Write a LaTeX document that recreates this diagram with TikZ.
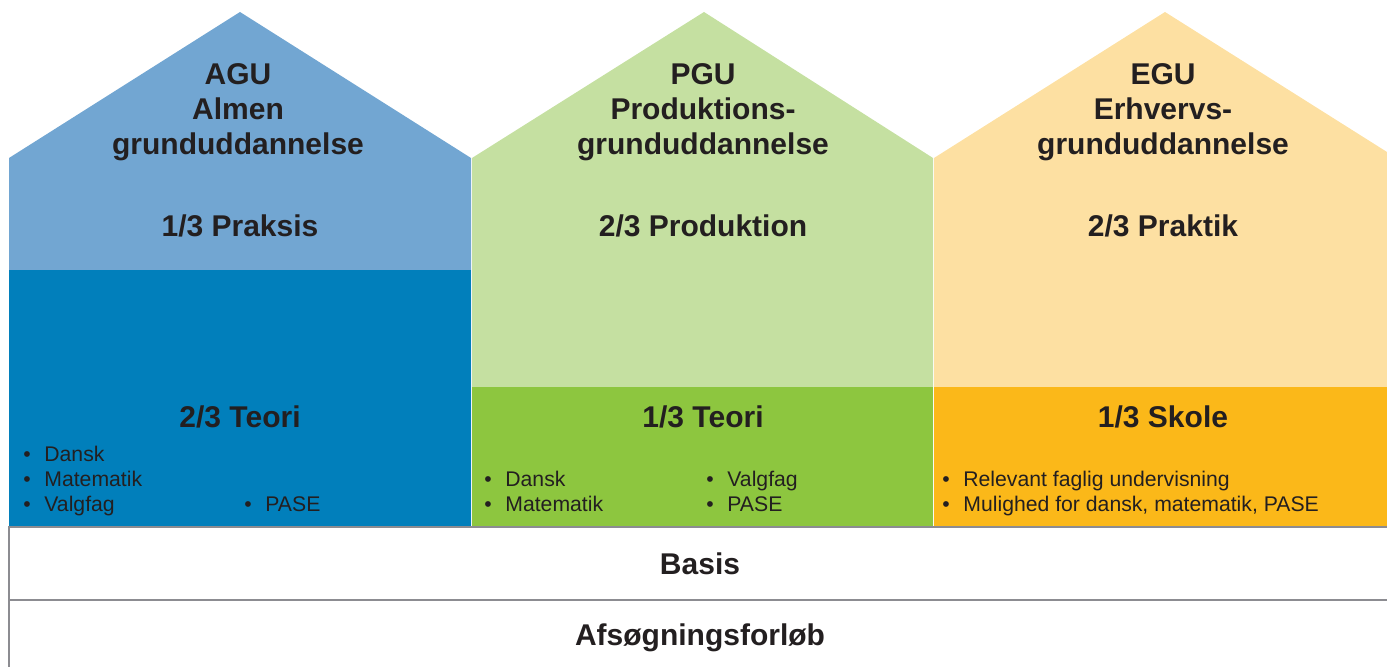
\documentclass[tikz,border=0pt]{standalone}
\usepackage{fontspec}
\setmainfont{Liberation Sans}
\usepackage{tikz}
\usetikzlibrary{positioning}

\definecolor{agulight}{RGB}{114, 166, 210}
\definecolor{agudark}{RGB}{1, 127, 187}
\definecolor{pgulight}{RGB}{197, 224, 161}
\definecolor{pgudark}{RGB}{141, 198, 63}
\definecolor{egulight}{RGB}{253, 224, 162}
\definecolor{egudark}{RGB}{251, 184, 25}
\definecolor{txtgray}{RGB}{35, 31, 32}
\definecolor{linegray}{RGB}{140, 140, 145}

\newcommand{\itm}[1]{\makebox[10.5pt][l]{\textbullet}#1}

\begin{document}
\begin{tikzpicture}[x=0.5pt, y=-0.5pt,
    title/.style={align=center, text=txtgray, font=\fontsize{15}{17.5}\selectfont\bfseries, inner sep=0pt},
    bullet/.style={anchor=base west, text=txtgray, font=\fontsize{10.6}{12.5}\selectfont, inner sep=0pt},
    baseline/.style={draw=linegray, line width=0.8pt}
  ]
  \useasboundingbox (0,0) rectangle (1387,667);

  % AGU house
  \fill[agulight] (9,527) -- (9,158) -- (240,12) -- (471,158) -- (471,527) -- cycle;
  \fill[agudark] (9,270) rectangle (471,527);
  % PGU house
  \fill[pgulight] (472,527) -- (472,158) -- (704,12) -- (933,158) -- (933,527) -- cycle;
  \fill[pgudark] (472,387) rectangle (933,527);
  % EGU house
  \fill[egulight] (934,527) -- (934,158) -- (1165,12) -- (1387,152) -- (1387,527) -- cycle;
  \fill[egudark] (934,387) rectangle (1387,527);

  % Basis and Afsoegning
  \draw[baseline] (1387,527) -- (9,527) -- (9,667);
  \draw[baseline] (9,600) -- (1387,600);

  % titles
  \node[title] (agu) at (238,112) {AGU\\Almen\\grunduddannelse};
  \node[title] (pgu) at (703,112) {PGU\\Produktions-\\grunduddannelse};
  \node[title] (egu) at (1163,112) {EGU\\Erhvervs-\\grunduddannelse};

  \node[title] (aguprak) at (240,226) {1/3 Praksis};
  \node[title] (pguprod) at (703,226) {2/3 Produktion};
  \node[title] (eguprak) at (1163,226) {2/3 Praktik};

  \node[title] (aguteori) at (240,417) {2/3 Teori};
  \node[title] (pguteori) at (703,417) {1/3 Teori};
  \node[title] (eguskole) at (1163,417) {1/3 Skole};

  % bullets
  \node[bullet] (agu1) at (23,462) {\itm{Dansk}};
  \node[bullet] (agu2) at (23,487) {\itm{Matematik}};
  \node[bullet] (agu3) at (23,512) {\itm{Valgfag}};
  \node[bullet] (agu4) at (244,512) {\itm{PASE}};

  \node[bullet] (pgu1) at (484,487) {\itm{Dansk}};
  \node[bullet] (pgu2) at (484,512) {\itm{Matematik}};
  \node[bullet] (pgu3) at (706,487) {\itm{Valgfag}};
  \node[bullet] (pgu4) at (706,512) {\itm{PASE}};

  \node[bullet] (egu1) at (942,487) {\itm{Relevant faglig undervisning}};
  \node[bullet] (egu2) at (942,512) {\itm{Mulighed for dansk, matematik, PASE}};

  \node[title] (basis) at (700,564) {Basis};
  \node[title] (afsoeg) at (700,638) {Afsøgningsforløb};
\end{tikzpicture}
\end{document}
